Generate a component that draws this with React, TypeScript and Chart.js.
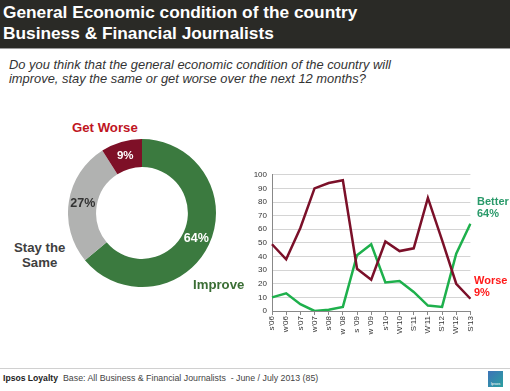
import React, { useEffect, useRef } from "react";
import { Chart, registerables } from "chart.js";

Chart.register(...registerables);

const donutLabels = ["Improve", "Stay the Same", "Get Worse"];
const donutValues = [64, 27, 9];
const donutColors = ["#3b7a3f", "#b1b2b1", "#7e1027"];
const donutTextColors = ["#ffffff", "#333333", "#ffffff"];

const periods = ["s'06", "w'06", "s'07", "w'07", "s'08", "w '08", "s '09", "w '09", "s'10", "W'10", "S'11", "W'11", "S'12", "W'12", "S'13"];
const worseValues = [49, 38, 61, 90, 94, 96, 31, 23, 51, 44, 46, 83, 52, 20, 9];
const betterValues = [10, 13, 5, 0, 1, 3, 41, 49, 21, 22, 14, 4, 3, 42, 64];
const yTicks = [0, 10, 20, 30, 40, 50, 60, 70, 80, 90, 100];

const FONT = "'Liberation Sans', Arial, sans-serif";

const donutLabelPlugin = {
  id: "donutLabels",
  afterDatasetsDraw(chart: any) {
    const ctx = chart.ctx;
    const meta = chart.getDatasetMeta(0);
    ctx.save();
    ctx.textAlign = "center";
    ctx.textBaseline = "middle";
    meta.data.forEach((arc: any, i: number) => {
      const p = arc.tooltipPosition();
      ctx.font = `bold ${i === 2 ? 11.5 : 12.5}px ${FONT}`;
      ctx.fillStyle = donutTextColors[i];
      ctx.fillText(donutValues[i] + "%", p.x, p.y);
    });
    ctx.restore();
  },
};

export default function App() {
  const donutRef = useRef<HTMLCanvasElement>(null);
  const lineRef = useRef<HTMLCanvasElement>(null);

  useEffect(() => {
    document.body.style.margin = "0";
    const d = new Chart(donutRef.current!, {
      type: "doughnut",
      data: {
        labels: donutLabels,
        datasets: [{ data: donutValues, backgroundColor: donutColors, borderWidth: 0 }],
      },
      options: {
        animation: false,
        responsive: false,
        cutout: "62%",
        layout: { padding: 0 },
        plugins: { legend: { display: false }, tooltip: { enabled: false } },
      },
      plugins: [donutLabelPlugin],
    });

    const l = new Chart(lineRef.current!, {
      type: "line",
      data: {
        labels: periods,
        datasets: [
          { label: "Worse", data: worseValues, borderColor: "#7b1029", borderWidth: 2.5, pointRadius: 0, tension: 0, fill: false },
          { label: "Better", data: betterValues, borderColor: "#1eb04c", borderWidth: 2.5, pointRadius: 0, tension: 0, fill: false },
        ],
      },
      options: {
        animation: false,
        responsive: false,
        layout: { padding: { top: 9, right: 4, left: 0, bottom: 0 } },
        plugins: { legend: { display: false }, tooltip: { enabled: false } },
        scales: {
          x: {
            offset: false,
            grid: { display: true, drawOnChartArea: false, drawTicks: true, tickLength: 4, color: "#888888" },
            border: { display: true, color: "#888888", width: 1 },
            ticks: {
              autoSkip: false,
              maxRotation: 90,
              minRotation: 90,
              padding: 1,
              color: "#333333",
              font: { family: FONT, size: 8 },
            },
            afterFit: (s: any) => { s.height = 30; },
          },
          y: {
            min: 0,
            max: 100,
            afterBuildTicks: (s: any) => { s.ticks = yTicks.map((v) => ({ value: v })); },
            grid: { color: "#d4d4d4", drawTicks: false, lineWidth: 1 },
            border: { display: true, color: "#888888", width: 1 },
            ticks: { padding: 5, color: "#333333", font: { family: FONT, size: 8 } },
            afterFit: (s: any) => { s.width = 51; },
          },
        },
      },
    });
    return () => { d.destroy(); l.destroy(); };
  }, []);

  const abs = (x: number, y: number): React.CSSProperties => ({ position: "absolute", left: x, top: y, whiteSpace: "nowrap" });

  return (
    <div style={{ position: "relative", width: 510, height: 391, background: "#fff", overflow: "hidden", fontFamily: FONT }}>
      <div style={{ position: "absolute", left: 0, top: 0, width: 510, height: 48, background: "#2a2a26", borderBottom: "1px solid #9a9a9a" }} />
      <div style={{ ...abs(3, 2), color: "#fff", fontWeight: "bold", fontSize: 17.3, lineHeight: "20.5px" }}>
        General Economic condition of the country<br />Business &amp; Financial Journalists
      </div>
      <div style={{ ...abs(9, 58), color: "#333", fontStyle: "italic", fontSize: 12.9, lineHeight: "13.5px" }}>
        Do you think that the general economic condition of the country will<br />improve, stay the same or get worse over the next 12 months?
      </div>

      <canvas ref={donutRef} width={148} height={148} style={{ position: "absolute", left: 68, top: 139, width: 148, height: 148 }} />
      <div style={{ ...abs(72, 120), color: "#c0161f", fontWeight: "bold", fontSize: 13.2 }}>Get Worse</div>
      <div style={{ ...abs(14, 240), color: "#404040", fontWeight: "bold", fontSize: 13.2, textAlign: "center", lineHeight: "15px" }}>Stay the<br />Same</div>
      <div style={{ ...abs(193, 277), color: "#3b6e35", fontWeight: "bold", fontSize: 13.2 }}>Improve</div>

      <canvas ref={lineRef} width={260} height={176} style={{ position: "absolute", left: 221, top: 165, width: 260, height: 176 }} />
      <div style={{ ...abs(477, 195), color: "#2a9a6a", fontWeight: "bold", fontSize: 11, lineHeight: "12px" }}>Better<br />64%</div>
      <div style={{ ...abs(474, 274), color: "#ff1a1a", fontWeight: "bold", fontSize: 11, lineHeight: "12px" }}>Worse<br />9%</div>

      <div style={{ position: "absolute", left: 0, top: 368, width: 510, height: 1, background: "#d0d0d0" }} />
      <div style={{ ...abs(3, 373), fontSize: 8.6, color: "#222", fontWeight: "bold" }}>Ipsos Loyalty</div>
      <div style={{ ...abs(63, 373), fontSize: 8.8, color: "#444" }}>Base: All Business &amp; Financial Journalists&nbsp; - June / July 2013 (85)</div>
      <div style={{ position: "absolute", left: 488, top: 371, width: 15, height: 16, background: "linear-gradient(135deg, #3d73b8, #2aa0a0)", color: "#fff", fontSize: 4, textAlign: "center", lineHeight: "26px" }}>Ipsos</div>
    </div>
  );
}
